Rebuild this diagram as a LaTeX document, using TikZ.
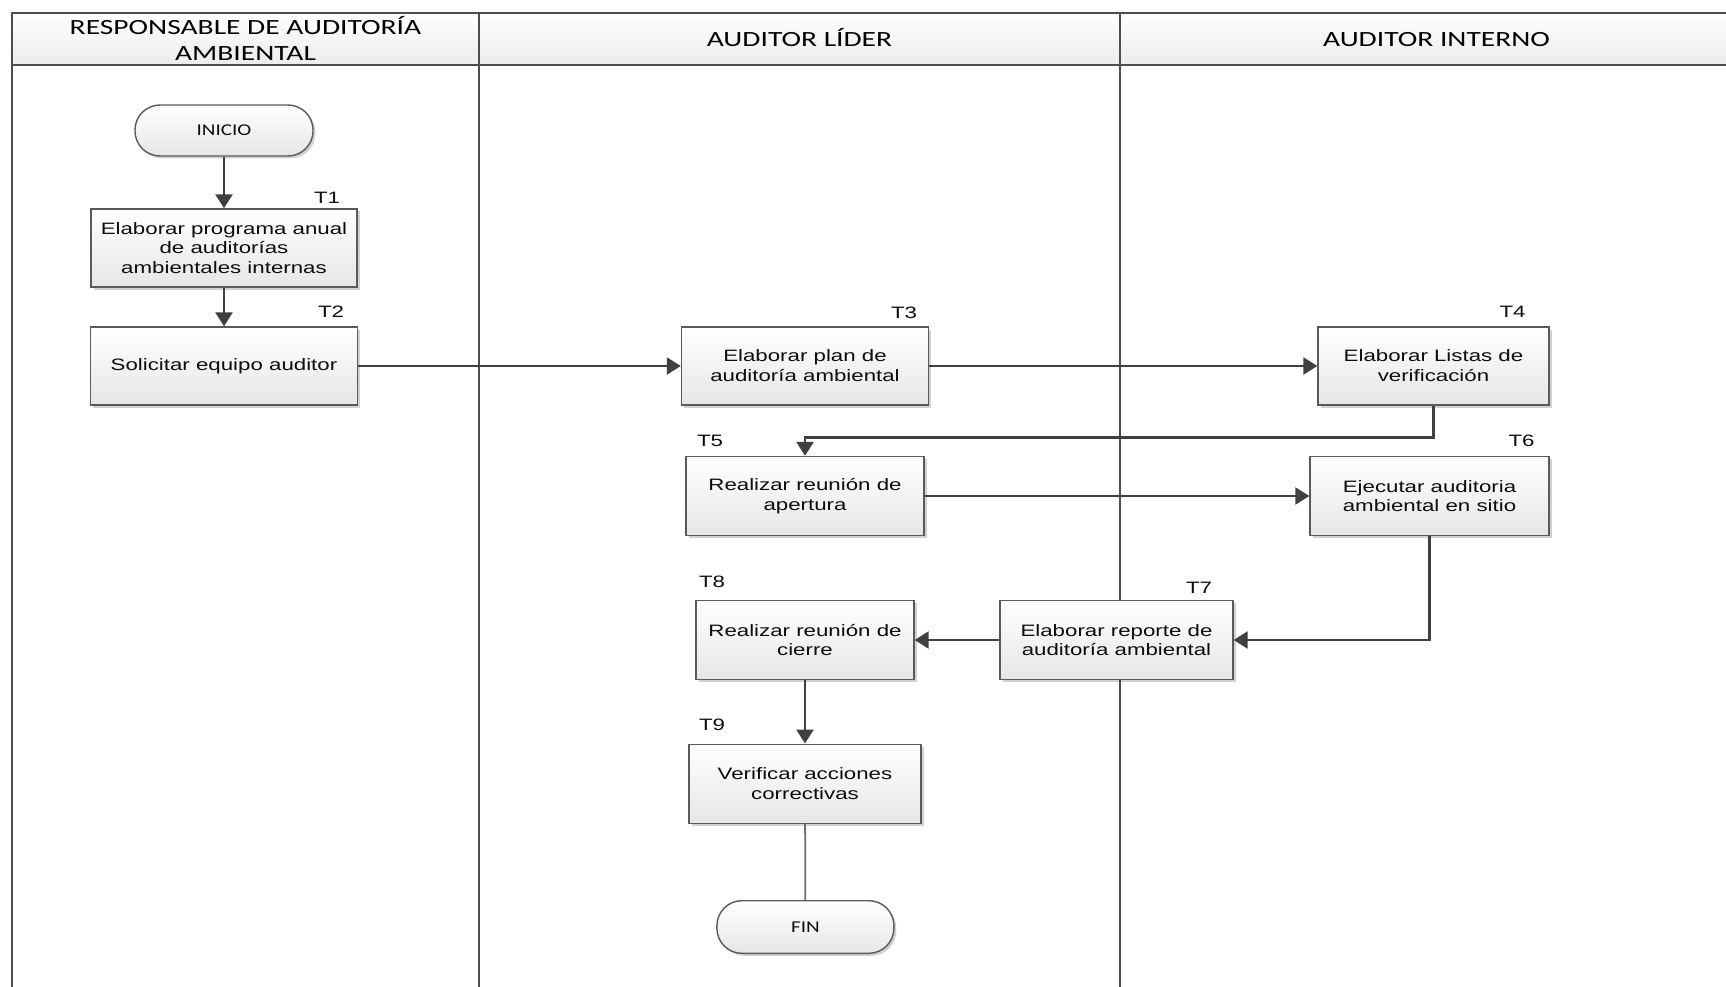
\documentclass[tikz,border=0pt]{standalone}
\usepackage{fontspec}
\setmainfont{Liberation Sans}[FakeStretch=1.35]
\newfontfamily\hdrfont{Carlito}[FakeStretch=1.36]
\newfontfamily\termfont{Carlito}[FakeStretch=1.28]
\usetikzlibrary{arrows.meta,shadows,calc}
\definecolor{poolC}{HTML}{4D4D4D}
\definecolor{boxC}{HTML}{5A5A5A}
\definecolor{lineC}{HTML}{404040}
\definecolor{thinC}{HTML}{707070}
\definecolor{boxB}{HTML}{E6E6E6}
\definecolor{hdrB}{HTML}{ECECEC}
\definecolor{txtC}{HTML}{0D0D0D}
\tikzset{
  pool/.style={draw=poolC, line width=2.4pt},
  task/.style={draw=boxC, line width=1.4pt, top color=white, bottom color=boxB,
    drop shadow={shadow xshift=2.5pt, shadow yshift=-2.5pt, fill=black, opacity=0.18},
    minimum height=78pt, align=center, inner sep=2pt,
    font=\fontsize{16.5}{19.8}\selectfont, text=txtC},
  term/.style={task, rounded corners=25pt, minimum height=51pt, minimum width=178pt,
    font=\termfont\fontsize{16.5}{19}\selectfont},
  tag/.style={inner sep=0pt, font=\fontsize{16.5}{19.8}\selectfont, text=txtC},
  flow/.style={draw=lineC, line width=2.5pt, -{Triangle[width=17pt,length=14pt]}},
  plainline/.style={draw=thinC, line width=1.8pt},
  hdr/.style={font=\hdrfont\fontsize{21.7}{26}\selectfont, align=center, text=black, inner sep=0pt}
}
\begin{document}
\begin{tikzpicture}[x=1pt,y=-1pt]
\useasboundingbox (0,0) rectangle (1726,987);
\fill[white] (0,0) rectangle (1726,987);
% pool
\shade[top color=white, bottom color=hdrB] (12,13) rectangle (1726,65);
\draw[pool] (1726,13) -- (12,13) -- (12,987);
\draw[pool] (12,65) -- (1726,65);
\draw[pool] (479,13) -- (479,987);
\draw[pool] (1120,13) -- (1120,987);
\node[hdr] (h1) at (245.5,38.5) {RESPONSABLE DE AUDITORÍA\\AMBIENTAL};
\node[hdr, anchor=base] (h2) at (799.5,47) {AUDITOR LÍDER};
\node[hdr, anchor=base] (h3) at (1436.5,47) {AUDITOR INTERNO};
% nodes
\node[term] (ini) at (224,130.5) {INICIO};
\node[task, minimum width=266pt] (t1) at (224,248) {Elaborar programa anual\\de auditorías\\ambientales internas};
\node[task, minimum width=267pt] (t2) at (224,366) {Solicitar equipo auditor};
\node[task, minimum width=247pt] (t3) at (805,366) {Elaborar plan de\\auditoría ambiental};
\node[task, minimum width=231pt] (t4) at (1433.5,366) {Elaborar Listas de\\verificación};
\node[task, minimum width=238pt, minimum height=79pt] (t5) at (805,496) {Realizar reunión de\\apertura};
\node[task, minimum width=239pt, minimum height=79pt] (t6) at (1429.5,496) {Ejecutar auditoria\\ambiental en sitio};
\node[task, minimum width=233pt, minimum height=79pt] (t7) at (1116.5,640) {Elaborar reporte de\\auditoría ambiental};
\node[task, minimum width=218pt, minimum height=79pt] (t8) at (805,640) {Realizar reunión de\\cierre};
\node[task, minimum width=232pt, minimum height=79pt] (t9) at (805,783.7) {Verificar acciones\\correctivas};
\node[term, minimum width=177pt, minimum height=52.6pt] (fin) at (805.4,927) {FIN};
% tags
\node[tag] (l1) at (327,197.5) {T1};
\node[tag] (l2) at (331,311.5) {T2};
\node[tag] (l3) at (904,313) {T3};
\node[tag] (l4) at (1512.5,312) {T4};
\node[tag] (l5) at (710,441) {T5};
\node[tag] (l6) at (1521.5,441) {T6};
\node[tag] (l7) at (1199,588) {T7};
\node[tag] (l8) at (712,582) {T8};
\node[tag] (l9) at (712,725) {T9};
% connectors
\coordinate (j45) at (0,437.3);
\draw[flow] (ini) -- (t1);
\draw[flow] (t1) -- (t2);
\draw[flow] (t2) -- (t3);
\draw[flow] (t3) -- (t4);
\draw[flow] (t4.south) -- (t4.south |- j45) -| (t5.north);
\draw[flow] (t5) -- (t6);
\draw[flow] (t6.south) |- (t7.east);
\draw[flow] (t7) -- (t8);
\draw[flow] (t8) -- (t9);
\draw[plainline] (t9) -- (fin);
\end{tikzpicture}
\end{document}
